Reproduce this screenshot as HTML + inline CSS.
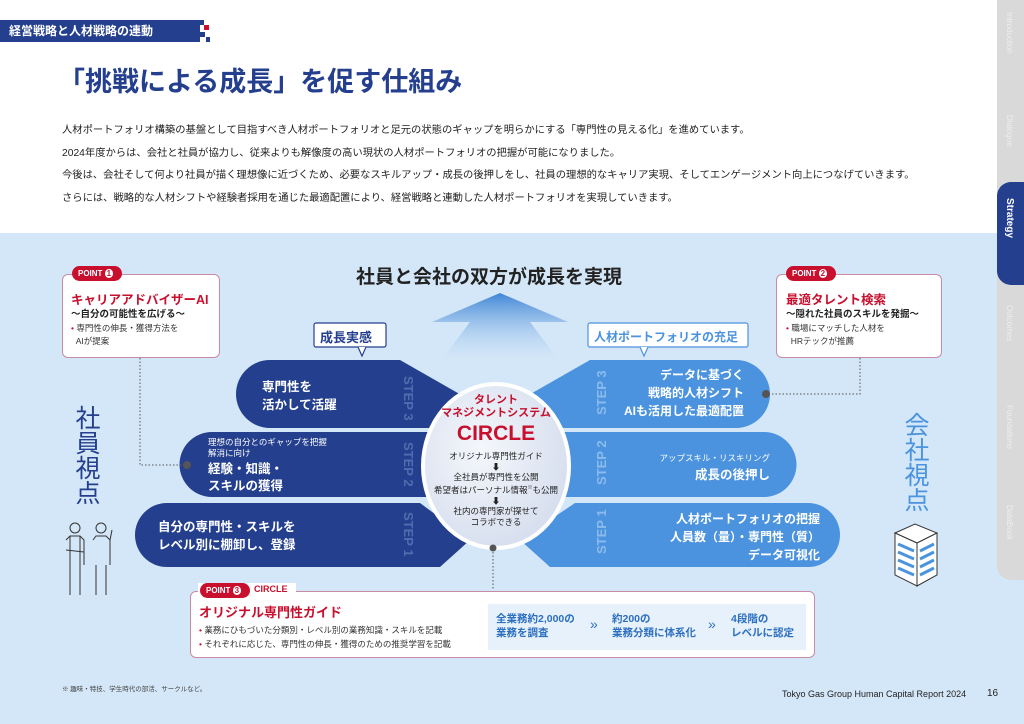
<!DOCTYPE html>
<html><head><meta charset="utf-8"><style>
*{margin:0;padding:0;box-sizing:border-box}
body{width:1024px;height:724px;overflow:hidden;position:relative;background:#fff;font-family:"Liberation Sans","Noto Sans CJK JP",sans-serif;color:#222}
.a{position:absolute;white-space:nowrap}
</style></head><body>
<div class="a" style="left:0;top:233px;width:1024px;height:491px;background:#d4e7f8"></div>
<div class="a" style="left:0;top:20px;width:200px;height:22px;background:#243f8e;color:#fff;font-size:12px;line-height:22px;padding-left:9px;font-weight:bold">経営戦略と人材戦略の連動</div>
<div class="a" style="left:198px;top:20px;width:6px;height:5px;background:#243f8e"></div>
<div class="a" style="left:204px;top:25px;width:5px;height:5px;background:#c8102e"></div>
<div class="a" style="left:200px;top:32px;width:5px;height:5px;background:#243f8e"></div>
<div class="a" style="left:206px;top:37px;width:4px;height:5px;background:#243f8e"></div>
<div class="a" style="left:58px;top:60px;font-size:27px;font-weight:bold;color:#243f8e">「挑戦による成長」を促す仕組み</div>
<div class="a" style="left:62px;top:120px;font-size:10.3px;line-height:22.5px;color:#222">人材ポートフォリオ構築の基盤として目指すべき人材ポートフォリオと足元の状態のギャップを明らかにする「専門性の見える化」を進めています。<br>2024年度からは、会社と社員が協力し、従来よりも解像度の高い現状の人材ポートフォリオの把握が可能になりました。<br>今後は、会社そして何より社員が描く理想像に近づくため、必要なスキルアップ・成長の後押しをし、社員の理想的なキャリア実現、そしてエンゲージメント向上につなげていきます。<br>さらには、戦略的な人材シフトや経験者採用を通じた最適配置により、経営戦略と連動した人材ポートフォリオを実現していきます。</div>
<div class="a" style="left:997px;top:0;width:27px;height:580px;background:#d9d9d9;border-radius:0 0 0 14px"></div>
<div class="a" style="left:997px;top:182px;width:27px;height:103px;background:#243f8e;border-radius:14px 0 0 14px"></div>
<div class="a" style="left:1004px;top:198px;writing-mode:vertical-rl;color:#fff;font-size:10px;font-weight:bold">Strategy</div>
<div class="a" style="left:1005px;top:12px;writing-mode:vertical-rl;color:#eee;font-size:8px">Introduction</div>
<div class="a" style="left:1005px;top:115px;writing-mode:vertical-rl;color:#eee;font-size:8px">Dialogue</div>
<div class="a" style="left:1005px;top:305px;writing-mode:vertical-rl;color:#eee;font-size:8px">Outcomes</div>
<div class="a" style="left:1005px;top:405px;writing-mode:vertical-rl;color:#eee;font-size:8px">Foundations</div>
<div class="a" style="left:1005px;top:505px;writing-mode:vertical-rl;color:#eee;font-size:8px">DataBook</div>

<svg class="a" style="left:0;top:0" width="1024" height="724">
<defs>
<linearGradient id="ar" x1="0" y1="0" x2="0" y2="1"><stop offset="0" stop-color="#3f86d6"/><stop offset="1" stop-color="#d4e7f8" stop-opacity="0.2"/></linearGradient>
<radialGradient id="cg" cx="0.4" cy="0.4" r="0.7"><stop offset="0" stop-color="#f4f7fb"/><stop offset="1" stop-color="#d3dced"/></radialGradient>
</defs>
<path d="M500 293 L568 322 L530 322 L560 362 L440 362 L470 322 L432 322 Z" fill="url(#ar)"/>
<path d="M270 360 H400 L470 400 L460 428 H270 A34 34 0 0 1 270 360Z" fill="#233f8e"/>
<path d="M212 432 H445 L445 497 H212 A32.5 32.5 0 0 1 212 432Z" fill="#233f8e"/>
<path d="M167 503 H420 L470 540 L440 567 H167 A32 32 0 0 1 167 503Z" fill="#233f8e"/>
<path d="M736 360 H590 L520 400 L530 428 H736 A34 34 0 0 0 736 360Z" fill="#4b93de"/>
<path d="M764 432 H545 L545 497 H764 A32.5 32.5 0 0 0 764 432Z" fill="#4b93de"/>
<path d="M808 503 H575 L520 540 L550 567 H808 A32 32 0 0 0 808 503Z" fill="#4b93de"/>
<g font-size="13" font-weight="bold" fill="#5a79b8" font-family="Liberation Sans,sans-serif" opacity="0.8">
<text transform="translate(404,376) rotate(90)">STEP 3</text>
<text transform="translate(404,442) rotate(90)">STEP 2</text>
<text transform="translate(404,512) rotate(90)">STEP 1</text>
<text transform="translate(606,415) rotate(-90)" fill="#9cc6ef">STEP 3</text>
<text transform="translate(606,485) rotate(-90)" fill="#9cc6ef">STEP 2</text>
<text transform="translate(606,554) rotate(-90)" fill="#9cc6ef">STEP 1</text>
</g>
<ellipse cx="496" cy="466" rx="73" ry="82" fill="url(#cg)" stroke="#fff" stroke-width="4"/>
<circle cx="493" cy="548" r="3.5" fill="#555"/>
<path d="M140 358 V465 H187" fill="none" stroke="#555" stroke-dasharray="1.5 2"/>
<circle cx="187" cy="465" r="4" fill="#555"/>
<path d="M860 358 V394 H766" fill="none" stroke="#555" stroke-dasharray="1.5 2"/>
<circle cx="766" cy="394" r="4" fill="#555"/>
<path d="M493 552 V590" fill="none" stroke="#555" stroke-dasharray="1.5 2"/>
<rect x="314" y="323" width="72" height="24" rx="2" fill="#fff" stroke="#243f8e" stroke-width="1.2"/>
<path d="M358 347 L362 356 L366 347" fill="#fff" stroke="#243f8e" stroke-width="1.2"/>
<rect x="588" y="323" width="160" height="24" rx="2" fill="#fff" stroke="#4b93de" stroke-width="1.2"/>
<path d="M640 347 L644 356 L648 347" fill="#fff" stroke="#4b93de" stroke-width="1.2"/>
<g fill="none" stroke="#333" stroke-width="1">
<circle cx="75" cy="528" r="5"/><path d="M66 540 L70 536 H80 L84 540 V565 M70 565 V536 M80 565 V536 M70 565 L70 595 M80 565 L80 595 M66 550 L84 552"/>
<circle cx="101" cy="528" r="5"/><path d="M93 540 L96 536 H106 L110 540 V565 M96 565 L96 595 M106 565 L106 595 M110 540 L112 530"/>
</g>
<g stroke="#333" stroke-width="1" fill="#fff">
<path d="M895 533 L915 524 L937 533 L917 543 Z"/>
<path d="M895 533 V575 L917 586 V543 Z"/><path d="M917 543 V586 L937 575 V533 Z"/>
</g>
<g stroke="#4b93de" stroke-width="3"><path d="M898 544 L914 551 M898 552 L914 559 M898 560 L914 567 M898 568 L914 575 M920 551 L934 544 M920 559 L934 552 M920 567 L934 560 M920 575 L934 568"/></g>
</svg>

<div class="a" style="left:356px;top:262px;font-size:19px;font-weight:bold;color:#222">社員と会社の双方が成長を実現</div>
<div class="a" style="left:320px;top:327px;font-size:13px;font-weight:bold;color:#243f8e">成長実感</div>
<div class="a" style="left:594px;top:328px;font-size:12px;font-weight:bold;color:#4b93de">人材ポートフォリオの充足</div>

<div class="a" style="left:262px;top:378px;font-size:12.5px;line-height:18px;color:#fff;font-weight:bold">専門性を<br>活かして活躍</div>
<div class="a" style="left:208px;top:437px;font-size:8.5px;line-height:11px;color:#fff">理想の自分とのギャップを把握<br>解消に向け</div>
<div class="a" style="left:208px;top:461px;font-size:12.5px;line-height:17px;color:#fff;font-weight:bold">経験・知識・<br>スキルの獲得</div>
<div class="a" style="left:158px;top:518px;font-size:12.5px;line-height:18px;color:#fff;font-weight:bold">自分の専門性・スキルを<br>レベル別に棚卸し、登録</div>

<div class="a" style="left:620px;top:366px;width:124px;text-align:right;font-size:12px;line-height:18px;color:#fff;font-weight:bold">データに基づく<br>戦略的人材シフト<br>AIも活用した最適配置</div>
<div class="a" style="left:640px;top:452px;width:130px;text-align:right;font-size:8.5px;color:#fff">アップスキル・リスキリング</div>
<div class="a" style="left:640px;top:464px;width:130px;text-align:right;font-size:12.5px;color:#fff;font-weight:bold">成長の後押し</div>
<div class="a" style="left:660px;top:510px;width:160px;text-align:right;font-size:12px;line-height:18px;color:#fff;font-weight:bold">人材ポートフォリオの把握<br>人員数（量）・専門性（質）<br>データ可視化</div>

<div class="a" style="left:426px;top:394px;width:140px;text-align:center;color:#c8102e;font-weight:bold;font-size:11px;line-height:13px">タレント<br>マネジメントシステム</div>
<div class="a" style="left:426px;top:422px;width:140px;text-align:center;color:#c8102e;font-weight:bold;font-size:21px">CIRCLE</div>
<div class="a" style="left:426px;top:451px;width:140px;text-align:center;color:#222;font-size:8.5px;line-height:10.7px">オリジナル専門性ガイド<br>⬇<br>全社員が専門性を公開<br>希望者はパーソナル情報<sup style="font-size:5px">※</sup>も公開<br>⬇<br>社内の専門家が探せて<br>コラボできる</div>

<div class="a" style="left:71px;top:405px;font-size:25px;line-height:29px;color:#243f8e;writing-mode:vertical-rl">社員視点</div>
<div class="a" style="left:900px;top:412px;font-size:25px;line-height:29px;color:#4b93de;writing-mode:vertical-rl">会社視点</div>

<div class="a" style="left:62px;top:274px;width:158px;height:84px;background:#fff;border:1px solid #c98aa5;border-radius:6px"></div>
<div class="a" style="left:72px;top:266px;width:50px;height:15px;background:#c8102e;border-radius:8px;color:#fff;font-size:8px;font-weight:bold;line-height:15px;padding-left:6px">POINT <span style="background:#fff;color:#c8102e;border-radius:50%;padding:0 2px">1</span></div>
<div class="a" style="left:71px;top:289px;font-size:12.5px;font-weight:bold;color:#c8102e">キャリアアドバイザーAI</div>
<div class="a" style="left:71px;top:306px;font-size:9.5px;font-weight:bold;color:#222">〜自分の可能性を広げる〜</div>
<div class="a" style="left:71px;top:322px;font-size:8.5px;line-height:13px;color:#333"><span style="color:#c8102e">•</span> 専門性の伸長・獲得方法を<br>&nbsp;&nbsp;AIが提案</div>
<div class="a" style="left:776px;top:274px;width:166px;height:84px;background:#fff;border:1px solid #c98aa5;border-radius:6px"></div>
<div class="a" style="left:786px;top:266px;width:50px;height:15px;background:#c8102e;border-radius:8px;color:#fff;font-size:8px;font-weight:bold;line-height:15px;padding-left:6px">POINT <span style="background:#fff;color:#c8102e;border-radius:50%;padding:0 2px">2</span></div>
<div class="a" style="left:786px;top:289px;font-size:12.5px;font-weight:bold;color:#c8102e">最適タレント検索</div>
<div class="a" style="left:786px;top:306px;font-size:9.5px;font-weight:bold;color:#222">〜隠れた社員のスキルを発掘〜</div>
<div class="a" style="left:786px;top:322px;font-size:8.5px;line-height:13px;color:#333"><span style="color:#c8102e">•</span> 職場にマッチした人材を<br>&nbsp;&nbsp;HRテックが推薦</div>
<div class="a" style="left:190px;top:591px;width:625px;height:67px;background:#fff;border:1px solid #c98aa5;border-radius:6px"></div>
<div class="a" style="left:198px;top:583px;width:98px;height:15px;background:#fff"></div>
<div class="a" style="left:200px;top:583px;width:50px;height:15px;background:#c8102e;border-radius:8px;color:#fff;font-size:8px;font-weight:bold;line-height:15px;padding-left:6px">POINT <span style="background:#fff;color:#c8102e;border-radius:50%;padding:0 2px">3</span></div>
<div class="a" style="left:254px;top:584px;font-size:9px;font-weight:bold;color:#c8102e">CIRCLE</div>
<div class="a" style="left:199px;top:602px;font-size:13px;font-weight:bold;color:#c8102e">オリジナル専門性ガイド</div>
<div class="a" style="left:199px;top:623px;font-size:8.5px;line-height:14px;color:#333"><span style="color:#c8102e">•</span> 業務にひもづいた分類別・レベル別の業務知識・スキルを記載<br><span style="color:#c8102e">•</span> それぞれに応じた、専門性の伸長・獲得のための推奨学習を記載</div>
<div class="a" style="left:488px;top:604px;width:318px;height:46px;background:#e6f1fb"></div>
<div class="a" style="left:496px;top:612px;font-size:10.5px;line-height:14px;font-weight:bold;color:#2d6fc0">全業務約2,000の<br>業務を調査</div>
<div class="a" style="left:590px;top:616px;font-size:14px;color:#2d6fc0">»</div>
<div class="a" style="left:612px;top:612px;font-size:10.5px;line-height:14px;font-weight:bold;color:#2d6fc0">約200の<br>業務分類に体系化</div>
<div class="a" style="left:708px;top:616px;font-size:14px;color:#2d6fc0">»</div>
<div class="a" style="left:731px;top:612px;font-size:10.5px;line-height:14px;font-weight:bold;color:#2d6fc0">4段階の<br>レベルに認定</div>

<div class="a" style="left:62px;top:683px;font-size:6.5px;color:#444">※ 趣味・特技、学生時代の部活、サークルなど。</div>
<div class="a" style="left:782px;top:689px;font-size:9px;color:#222">Tokyo Gas Group Human Capital Report 2024</div>
<div class="a" style="left:987px;top:688px;font-size:10px;color:#222">16</div>
</body></html>
